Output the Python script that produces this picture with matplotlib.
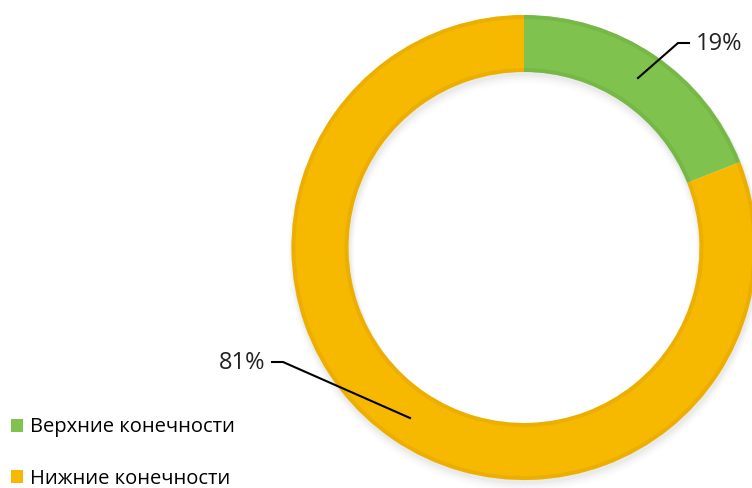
import matplotlib.pyplot as plt
import numpy as np
from matplotlib.patches import Wedge

plt.rcParams['font.family'] = ['Open Sans', 'DejaVu Sans']

# data
labels = ['Верхние конечности', 'Нижние конечности']
shares = [19, 81]
colors = ['#80c24e', '#f6b900']
edge_colors = ['#6aa83c', '#dda200']

W, H = 752, 488
fig = plt.figure(figsize=(W / 100, H / 100), dpi=100)
ax = fig.add_axes([0, 0, 1, 1])

cx, cy = 524, H - 247.5
r_out, ring = 232.5, 57

# soft shadow under the ring
for k, a in enumerate(np.linspace(0.05, 0.01, 5)):
    ax.add_patch(Wedge((cx + 1, cy - 3 - k), r_out + 1 + k, 0, 360,
                       width=ring + 2 + 2 * k, facecolor='#888888', alpha=a, lw=0))

wedges, _ = ax.pie(shares, colors=colors, startangle=90, counterclock=False,
                   center=(cx, cy), radius=r_out, frame=True,
                   wedgeprops=dict(width=ring, edgecolor='none'))

# bevel: slightly darker rims on each segment
for w, ec in zip(wedges, edge_colors):
    t1, t2 = w.theta1, w.theta2
    ax.add_patch(Wedge((cx, cy), r_out, t1, t2, width=4, facecolor=ec, lw=0, alpha=0.4))
    ax.add_patch(Wedge((cx, cy), r_out - ring + 4, t1, t2, width=4, facecolor=ec, lw=0, alpha=0.4))

ax.set_xlim(0, W)
ax.set_ylim(0, H)
ax.set_aspect('equal')
ax.axis('off')

# value labels with leader lines
ax.plot([638, 678, 689], [H - 78, H - 43, H - 43], color='black', lw=1.5)
ax.text(696, H - 44, f'{shares[0]}%', fontsize=17, va='center', ha='left', color='#222222')
ax.plot([272, 283, 410], [H - 362, H - 362, H - 418], color='black', lw=1.5)
ax.text(265, H - 363, f'{shares[1]}%', fontsize=17, va='center', ha='right', color='#222222')

ax.legend(wedges, labels, loc='center left', bbox_to_anchor=(3 / W, (H - 453) / H),
          frameon=False, fontsize=14.5, handlelength=0.6, handleheight=0.6,
          handletextpad=0.35, labelspacing=1.55, borderaxespad=0)

fig.savefig('out.png', dpi=100, facecolor='white')
